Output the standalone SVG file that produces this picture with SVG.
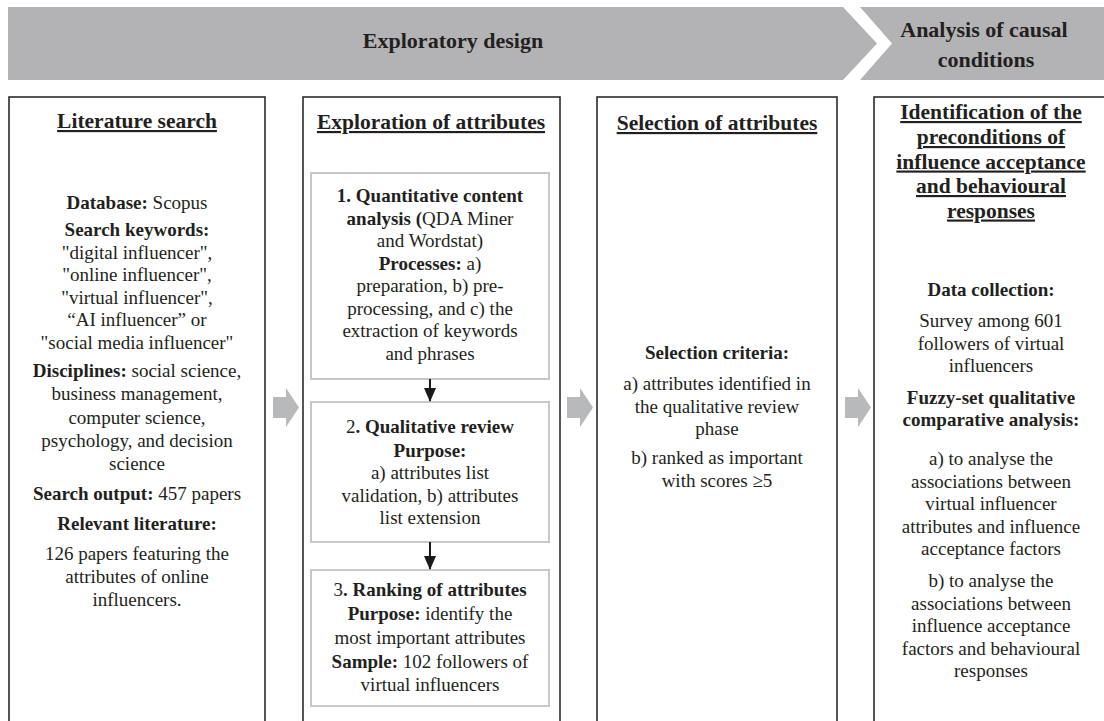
<svg xmlns="http://www.w3.org/2000/svg" width="1104" height="721" viewBox="0 0 1104 721">
<style>
text{font-family:"Liberation Serif","Times New Roman",serif;fill:#231f20;text-anchor:middle}
.ban{font-size:22px;font-weight:bold}
.h{font-size:21.5px;font-weight:bold;text-decoration:underline}
.t{font-size:19px}
.b{font-weight:bold}
.outer{fill:#fff;stroke:#2b2b2b;stroke-width:1.6}
.inner{fill:#fff;stroke:#c8c8c8;stroke-width:2}
.garrow{fill:#b8b9bb}
.conn{stroke:#1a1a1a;stroke-width:2;fill:none}
</style>
<defs>
<marker id="ah" markerWidth="14" markerHeight="12" refX="13" refY="6" orient="auto" markerUnits="userSpaceOnUse" viewBox="0 0 14 12">
<path d="M0,0 L14,6 L0,12 Z" fill="#1a1a1a"/>
</marker>
</defs>
<g id="banner">
<polygon points="8,7 843,7 877,43.5 843,80 8,80" fill="#b3b3b5"/>
<polygon points="860,7 1104,7 1104,80 860,80 892,43.5" fill="#b3b3b5"/>
<text class="ban" x="453" y="48">Exploratory design</text>
<text class="ban" x="984" y="37">Analysis of causal</text>
<text class="ban" x="986" y="67">conditions</text>
</g>
<g id="literature-search">
<rect class="outer" x="9" y="97" width="256" height="640"/>
<text class="h" x="137" y="128">Literature search</text>
<text class="t" x="137" y="209"><tspan class="b">Database:</tspan> Scopus</text>
<text class="t b" x="137" y="236">Search keywords:</text>
<text class="t" x="137" y="258.5">"digital influencer",</text>
<text class="t" x="137" y="281">"online influencer",</text>
<text class="t" x="137" y="303.5">"virtual influencer",</text>
<text class="t" x="137" y="326">“AI influencer” or</text>
<text class="t" x="137" y="348.5">"social media influencer"</text>
<text class="t" x="137" y="377"><tspan class="b">Disciplines:</tspan> social science,</text>
<text class="t" x="137" y="400">business management,</text>
<text class="t" x="137" y="423.5">computer science,</text>
<text class="t" x="137" y="447">psychology, and decision</text>
<text class="t" x="137" y="470">science</text>
<text class="t" x="137" y="500"><tspan class="b">Search output:</tspan> 457 papers</text>
<text class="t b" x="137" y="530">Relevant literature:</text>
<text class="t" x="137" y="560">126 papers featuring the</text>
<text class="t" x="137" y="583">attributes of online</text>
<text class="t" x="137" y="606">influencers.</text>
</g>
<g id="exploration-of-attributes">
<rect class="outer" x="303" y="97" width="257" height="640"/>
<text class="h" x="431" y="129">Exploration of attributes</text>
</g>
<g id="step1">
<rect class="inner" x="311" y="173" width="238" height="206"/>
<text class="t b" x="430" y="202">1. Quantitative content</text>
<text class="t" x="430" y="224.5"><tspan class="b">analysis (</tspan>QDA Miner</text>
<text class="t" x="430" y="247">and Wordstat)</text>
<text class="t" x="430" y="269.5"><tspan class="b">Processes:</tspan> a)</text>
<text class="t" x="430" y="292">preparation, b) pre-</text>
<text class="t" x="430" y="314.5">processing, and c) the</text>
<text class="t" x="430" y="337">extraction of keywords</text>
<text class="t" x="430" y="359.5">and phrases</text>
</g>
<g id="step2">
<rect class="inner" x="311" y="402" width="238" height="140"/>
<text class="t" x="430" y="433">2<tspan class="b">. Qualitative review</tspan></text>
<text class="t b" x="430" y="456.5">Purpose:</text>
<text class="t" x="430" y="479">a) attributes list</text>
<text class="t" x="430" y="501.5">validation, b) attributes</text>
<text class="t" x="430" y="524">list extension</text>
</g>
<g id="step3">
<rect class="inner" x="311" y="570" width="238" height="136"/>
<text class="t" x="430" y="596">3<tspan class="b">. Ranking of attributes</tspan></text>
<text class="t" x="430" y="620"><tspan class="b">Purpose:</tspan> identify the</text>
<text class="t" x="430" y="644">most important attributes</text>
<text class="t" x="430" y="668"><tspan class="b">Sample:</tspan> 102 followers of</text>
<text class="t" x="430" y="691">virtual influencers</text>
</g>
<g id="selection-of-attributes">
<rect class="outer" x="597" y="97" width="240" height="640"/>
<text class="h" x="717" y="130">Selection of attributes</text>
<text class="t b" x="717" y="359">Selection criteria:</text>
<text class="t" x="717" y="390">a) attributes identified in</text>
<text class="t" x="717" y="412.5">the qualitative review</text>
<text class="t" x="717" y="435">phase</text>
<text class="t" x="717" y="464">b) ranked as important</text>
<text class="t" x="717" y="486.5">with scores ≥5</text>
</g>
<g id="identification">
<rect class="outer" x="874" y="97" width="250" height="640"/>
<text class="h" x="991" y="119">Identification of the</text>
<text class="h" x="991" y="144">preconditions of</text>
<text class="h" x="991" y="168.5">influence acceptance</text>
<text class="h" x="991" y="193">and behavioural</text>
<text class="h" x="991" y="217.5">responses</text>
<text class="t b" x="991" y="296">Data collection:</text>
<text class="t" x="991" y="327">Survey among 601</text>
<text class="t" x="991" y="349.5">followers of virtual</text>
<text class="t" x="991" y="372">influencers</text>
<text class="t b" x="991" y="403.5">Fuzzy-set qualitative</text>
<text class="t b" x="991" y="426">comparative analysis:</text>
<text class="t" x="991" y="465">a) to analyse the</text>
<text class="t" x="991" y="487.5">associations between</text>
<text class="t" x="991" y="510">virtual influencer</text>
<text class="t" x="991" y="532.5">attributes and influence</text>
<text class="t" x="991" y="555">acceptance factors</text>
<text class="t" x="991" y="587">b) to analyse the</text>
<text class="t" x="991" y="609.5">associations between</text>
<text class="t" x="991" y="632">influence acceptance</text>
<text class="t" x="991" y="654.5">factors and behavioural</text>
<text class="t" x="991" y="677">responses</text>
</g>
<g id="connectors">
<polygon class="garrow" points="273,397 286,397 286,388 299,407.5 286,427 286,418 273,418"/>
<polygon class="garrow" points="567,397 580,397 580,388 593,407.5 580,427 580,418 567,418"/>
<polygon class="garrow" points="845,397 858,397 858,388 871,407.5 858,427 858,418 845,418"/>
<line class="conn" x1="430" y1="379" x2="430" y2="401" marker-end="url(#ah)"/>
<line class="conn" x1="430" y1="542" x2="430" y2="569" marker-end="url(#ah)"/>
</g>
</svg>
